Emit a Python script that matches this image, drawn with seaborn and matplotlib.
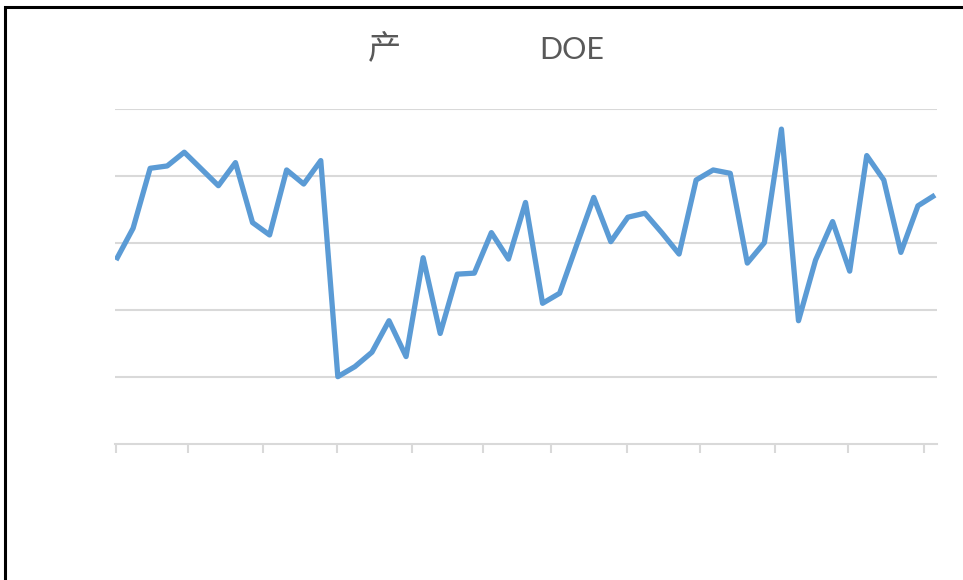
import matplotlib
matplotlib.use("Agg")
import matplotlib.pyplot as plt
import matplotlib.patches as mpatches
import seaborn as sns
import pandas as pd
import numpy as np

# ---- data ----
week_index = list(range(49))
doe_values = [54.9, 64.4, 82.3, 83.0, 87.1, 82.1, 77.1, 84.0, 66.1, 62.4,
              81.8, 77.6, 84.6, 20.1, 23.1, 27.4, 36.8, 26.1, 55.6, 33.0,
              50.7, 51.0, 63.1, 55.2, 72.1, 42.0, 45.0, 59.4, 73.6, 60.4,
              67.7, 68.9, 63.0, 56.7, 78.8, 81.8, 80.8, 54.0, 60.1, 94.0,
              36.8, 54.9, 66.4, 51.6, 86.1, 78.8, 57.2, 71.1, 74.3]
month_ticks = [0, 4.22, 8.62, 12.95, 17.35, 21.51, 25.5, 29.95, 34.23, 38.63, 42.9, 47.36]
y_grid = [20, 40, 60, 80, 100]
title_left = "产"
title_right = "DOE"

df = pd.DataFrame({"week": week_index, "DOE": doe_values})

sns.set_style("white")
plt.rcParams["font.family"] = ["Lato", "Noto Sans CJK SC", "DejaVu Sans"]

fig = plt.figure(figsize=(9.63, 5.8), dpi=100)
ax = fig.add_axes([115 / 963, (580 - 444) / 580, (936.7 - 115) / 963, (444 - 109) / 580])

sns.lineplot(data=df, x="week", y="DOE", ax=ax, color="#5B9BD5", linewidth=3.8,
             solid_joinstyle="round", solid_capstyle="butt")

ax.set_xlim(-0.06, 48.1)
ax.set_ylim(0, 100)
ax.set_yticks(y_grid)
ax.set_yticklabels([])
ax.set_xticks(month_ticks)
ax.set_xticklabels([])
ax.set_xlabel("")
ax.set_ylabel("")
ax.yaxis.grid(True, color="#D9D9D9", linewidth=1.5)
ax.xaxis.grid(False)
ax.set_axisbelow(True)
for s in ["top", "right", "left"]:
    ax.spines[s].set_visible(False)
ax.spines["bottom"].set_color("#D9D9D9")
ax.spines["bottom"].set_linewidth(1.5)
ax.tick_params(axis="y", length=0)
ax.tick_params(axis="x", direction="out", length=6.5, width=1.5, color="#D9D9D9", bottom=True)

fig.text(385 / 963, 1 - 49 / 580, title_left, ha="center", va="center", fontsize=24,
         color="#595959", family=["Noto Sans CJK SC", "DejaVu Sans"])
fig.text(539 / 963, 1 - 50 / 580, title_right, ha="left", va="center", fontsize=22,
         color="#595959", family=["Lato", "DejaVu Sans"])

# outer frame (only top and left edges fall inside the image)
frame = mpatches.Rectangle((5.3 / 963, -0.5), 2.0, 0.5 + (580 - 7.3) / 580,
                           transform=fig.transFigure, fill=False, edgecolor="black",
                           linewidth=2.2, clip_on=False)
fig.patches.append(frame)

fig.savefig("out.png", dpi=100, facecolor="white")
